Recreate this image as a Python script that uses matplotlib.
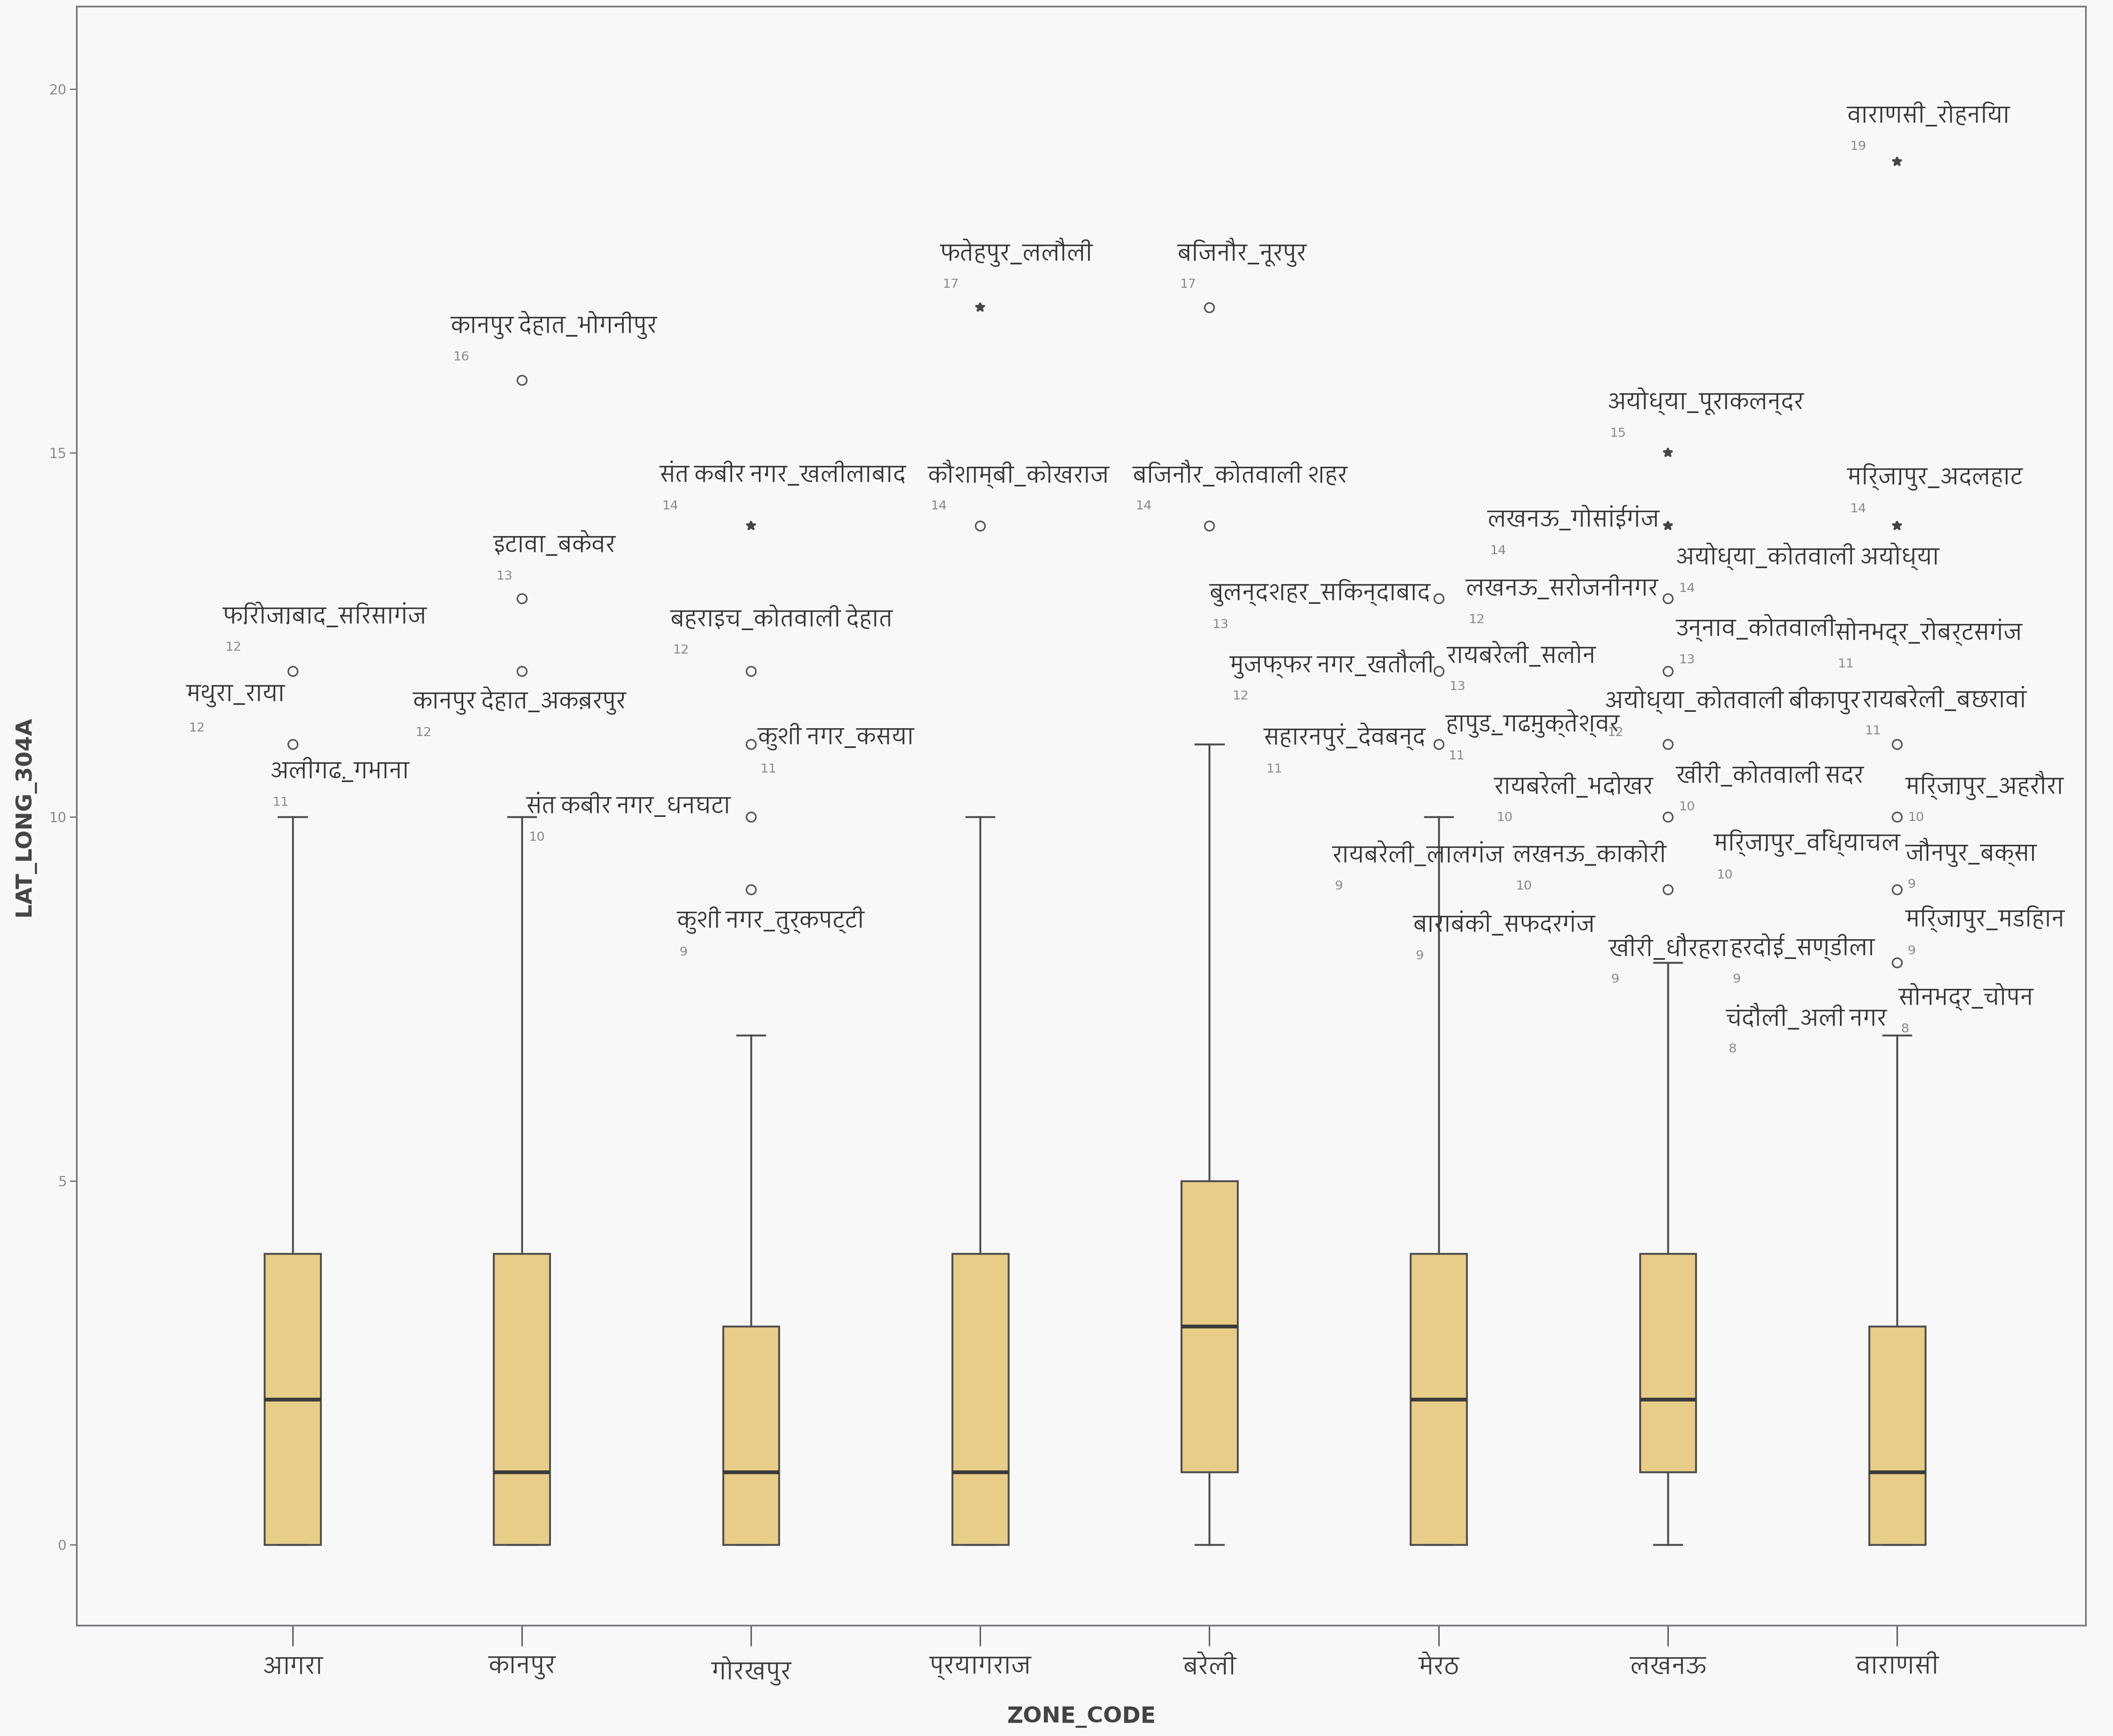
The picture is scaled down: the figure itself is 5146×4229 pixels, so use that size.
import matplotlib
matplotlib.use("Agg")
import matplotlib.pyplot as plt
from matplotlib import font_manager as fm
from matplotlib.ft2font import FT2Font

# ---- data ----
zones = ["आगरा", "कानपुर", "गोरखपुर", "प्रयागराज", "बरेली", "मेरठ", "लखनऊ", "वाराणसी"]
q1 = [0, 0, 0, 0, 1, 0, 1, 0]
median = [2, 1, 1, 1, 3, 2, 2, 1]
q3 = [4, 4, 3, 4, 5, 4, 4, 3]
whisker_low = [0, 0, 0, 0, 0, 0, 0, 0]
whisker_high = [10, 10, 7, 10, 11, 10, 8, 7]

# outliers (circles) and extremes (stars) per zone
outliers = [[11, 12], [12, 13, 16], [9, 10, 11, 12], [14], [14, 17],
            [11, 12, 13], [9, 10, 11, 12, 13], [8, 9, 10, 11]]
extremes = [[], [], [14], [17], [], [], [14, 15], [14, 19]]

# case labels: name, value shown under it
case_names = [
    "फ़िरोज़ाबाद_सिरसागंज", "मथुरा_राया", "अलीगढ़_गभाना",
    "कानपुर देहात_भोगनीपुर", "इटावा_बकेवर", "कानपुर देहात_अक़बरपुर",
    "संत कबीर नगर_खलीलाबाद", "बहराइच_कोतवाली देहात", "कुशी नगर_कसया",
    "संत कबीर नगर_धनघटा", "कुशी नगर_तुर्कपट्टी",
    "फतेहपुर_ललौली", "कौशाम्बी_कोखराज",
    "बिजनौर_नूरपुर", "बिजनौर_कोतवाली शहर",
    "बुलन्दशहर_सिकन्दाबाद", "मुजफ्फर नगर_खतौली", "सहारनपुरं_देवबन्द",
    "हापुड़_गढ़मुक्तेश्वर", "रायबरेली_लालगंज", "बाराबंकी_सफदरगंज",
    "अयोध्या_पूराकलन्दर", "लखनऊ_गोसांईगंज", "लखनऊ_सरोजनीनगर",
    "अयोध्या_कोतवाली अयोध्या", "उन्नाव_कोतवाली", "रायबरेली_सलोन",
    "अयोध्या_कोतवाली बीकापुर", "रायबरेली_भदोखर", "खीरी_कोतवाली सदर",
    "लखनऊ_काकोरी", "खीरी_धौरहरा", "हरदोई_सण्डीला",
    "वाराणसी_रोहनिया", "मिर्ज़ापुर_अदलहाट", "सोनभद्र_रोबर्टसगंज",
    "रायबरेली_बछरावां", "मिर्ज़ापुर_अहरौरा", "मिर्ज़ापुर_विंध्याचल",
    "जौनपुर_बक्सा", "मिर्ज़ापुर_मडिहान", "सोनभद्र_चोपन", "चंदौली_अली नगर",
]
case_values = [12, 12, 11,
               16, 13, 12,
               14, 12, 11, 10, 9,
               17, 14,
               17, 14,
               13, 12, 11, 11, 9, 9,
               15, 14, 12, 14, 13, 13, 12, 10, 10, 10, 9, 9,
               19, 14, 11, 11, 10, 10, 9, 9, 8, 8]

# layout: where each case label sits (x in category units, y in axis units)
label_pos = [(0.694, 12.77), (0.535, 11.66), (0.900, 10.64),
             (1.688, 16.76), (1.876, 13.75), (1.524, 11.60),
             (2.600, 14.71), (2.647, 12.73), (3.029, 11.10), (2.018, 10.16), (2.676, 8.58),
             (3.824, 17.76), (3.771, 14.71),
             (4.859, 17.76), (4.665, 14.71),
             (5.000, 13.08), (5.088, 12.10), (5.235, 11.10), (6.030, 11.28),
             (5.535, 9.49), (5.888, 8.53),
             (6.735, 15.71), (6.212, 14.10), (6.118, 13.15), (7.035, 13.58),
             (7.035, 12.60), (6.035, 12.23), (6.724, 11.60), (6.241, 10.43),
             (7.035, 10.58), (6.324, 9.49), (6.741, 8.21), (7.271, 8.21),
             (7.782, 19.65), (7.782, 14.67), (7.729, 12.54), (7.847, 11.62),
             (8.035, 10.43), (7.200, 9.64), (8.035, 9.51), (8.035, 8.60),
             (8.006, 7.53), (7.253, 7.25)]


def devanagari_font():
    best = None
    for f in fm.fontManager.ttflist:
        try:
            if 0x0915 in FT2Font(f.fname).get_charmap():
                if "Devanagari" in f.name or best is None:
                    best = f.name
                    if "Devanagari" in f.name and "Sans" in f.name:
                        return best
        except Exception:
            pass
    return best


deva = devanagari_font()
fam = [deva, "DejaVu Sans"] if deva else ["DejaVu Sans"]
plt.rcParams["font.family"] = fam

BG = "#f8f8f8"
EDGE = "#4d4d4d"

fig = plt.figure(figsize=(5146 / 300, 4229 / 300), dpi=300, facecolor=BG)
ax = fig.add_axes([0.0364, 0.0636, 0.9508, 0.9325], facecolor=BG)

positions = list(range(1, len(zones) + 1))
stats = []
for i, z in enumerate(zones):
    stats.append({"label": z, "q1": q1[i], "med": median[i], "q3": q3[i],
                  "whislo": whisker_low[i], "whishi": whisker_high[i],
                  "fliers": outliers[i]})

ax.bxp(stats, positions=positions, widths=0.245, patch_artist=True,
       boxprops=dict(facecolor="#e7cd87", edgecolor=EDGE, linewidth=1.1),
       medianprops=dict(color="#3a3a3a", linewidth=2.2),
       whiskerprops=dict(color=EDGE, linewidth=1.1),
       capprops=dict(color=EDGE, linewidth=1.1),
       flierprops=dict(marker="o", markersize=5.5, markerfacecolor="none",
                       markeredgecolor="#555555", markeredgewidth=0.9))

for i, ext in enumerate(extremes):
    if ext:
        ax.plot([positions[i]] * len(ext), ext, linestyle="none", marker="*",
                markersize=5.5, color="#444444")

for name, val, (lx, ly) in zip(case_names, case_values, label_pos):
    ax.text(lx, ly, name, fontsize=13.2, color="#333333", ha="left", va="center")
    ax.text(lx + 0.012, ly - 0.44, str(val), fontsize=7.5, color="#8a8a8a",
            family="DejaVu Sans", ha="left", va="center")

ax.set_xlim(0.059, 8.824)
ax.set_ylim(-1.11, 21.13)
ax.set_xticks(positions)
ax.set_xticklabels(zones, fontsize=14, color="#3a3a3a")
ax.set_yticks([0, 5, 10, 15, 20])
ax.set_yticklabels(["0", "5", "10", "15", "20"], fontsize=8, color="#888888",
                   family="DejaVu Sans")
ax.tick_params(axis="x", direction="out", length=12, width=0.8, color="#555555", pad=6)
ax.tick_params(axis="y", direction="out", length=4, width=0.8, color="#777777", pad=2)
for s in ax.spines.values():
    s.set_color("#7a7a80")
    s.set_linewidth(1.0)

ax.set_xlabel("ZONE_CODE", fontsize=13, fontweight="bold", color="#444444",
              family="DejaVu Sans", labelpad=12)
ax.set_ylabel("LAT_LONG_304A", fontsize=13, fontweight="bold", color="#444444",
              family="DejaVu Sans", labelpad=8)

fig.savefig("out.png", dpi=300, facecolor=BG)
